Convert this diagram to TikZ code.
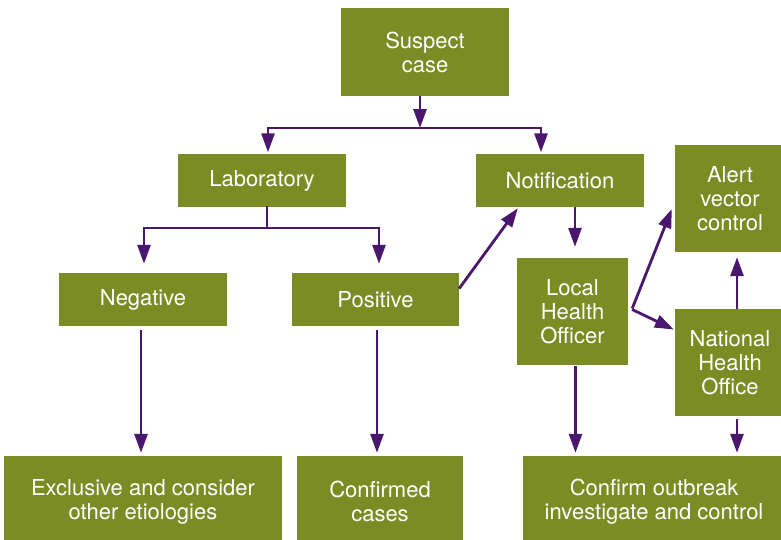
\documentclass[tikz,border=0pt]{standalone}
\usepackage{fontspec}
\setmainfont{TeX Gyre Heros}
\usetikzlibrary{arrows.meta}
\definecolor{boxgreen}{RGB}{122,140,35}
\definecolor{purp}{RGB}{75,23,110}
\begin{document}
\begin{tikzpicture}[x=1pt,y=-1pt,
  box/.style={fill=boxgreen, text=white, inner sep=0pt, align=center,
    font=\fontsize{22}{24}\selectfont},
  ln/.style={draw=purp, line width=2.8pt, line cap=rect},
  arr/.style={draw=purp, line width=2.8pt, -{Triangle[length=19pt,width=13pt]}}]
\useasboundingbox (0,0) rectangle (781,539);
% boxes
\node[box, minimum width=168pt, minimum height=88pt] (suspect) at (425,52) {Suspect\\case};
\node[box, minimum width=168pt, minimum height=53pt] (lab) at (262,180.5) {Laboratory};
\node[box, minimum width=168pt, minimum height=53pt] (notif) at (560,180.5) {Notification};
\node[box, minimum width=110pt, minimum height=107pt] (alert) at (730,198.5) {Alert\\vector\\control};
\node[box, minimum width=168pt, minimum height=53pt] (neg) at (143,299.5) {Negative};
\node[box, minimum width=167pt, minimum height=53pt] (pos) at (375.5,299.5) {Positive};
\node[box, minimum width=111pt, minimum height=107pt] (local) at (572.5,311.5) {Local\\Health\\Officer};
\node[box, minimum width=110pt, minimum height=107pt] (natl) at (730,362.5) {National\\Health\\Office};
\node[box, minimum width=278pt, minimum height=91pt] (excl) at (143,501.5) {Exclusive and consider\\other etiologies};
\node[box, minimum width=166pt, minimum height=91pt] (conf) at (380,501.5) {Confirmed\\cases};
\node[box, minimum width=262pt, minimum height=91pt] (outb) at (654,501.5) {Confirm outbreak\\investigate and control};
% suspect split
\coordinate (j1) at (420,128);
\coordinate (jl) at (268,128);
\coordinate (jr) at (541,128);
\draw[ln] (jl) -- (jr);
\draw[arr] ([xshift=-5pt]suspect.south) -- (j1);
\draw[arr, shorten >=1.5pt] (jl) -- (jl |- lab.north);
\draw[arr, shorten >=1.5pt] (jr) -- (jr |- notif.north);
% lab split
\coordinate (k1) at (144,228);
\coordinate (k2) at (379,228);
\draw[ln] ([xshift=5pt]lab.south) -- ([xshift=5pt]lab.south |- k1);
\draw[ln] (k1) -- (k2);
\draw[arr, shorten >=9pt] (k1) -- (k1 |- neg.north);
\draw[arr, shorten >=9pt] (k2) -- (k2 |- pos.north);
% down arrows
\draw[arr, shorten <=4pt, shorten >=3pt] ([xshift=-2pt]neg.south) -- ([xshift=-2pt]neg.south |- excl.north);
\draw[arr, shorten <=4pt, shorten >=3pt] ([xshift=1.5pt]pos.south) -- ([xshift=1.5pt]pos.south |- conf.north);
\draw[arr, shorten <=1pt, shorten >=3pt] ([xshift=3pt]local.south) -- ([xshift=3pt]local.south |- outb.north);
\draw[arr, shorten <=3pt, shorten >=3pt] ([xshift=7pt]natl.south) -- ([xshift=7pt]natl.south |- outb.north);
% diagonal and others
\draw[arr] ([yshift=11pt]pos.east) -- ([xshift=42pt,yshift=-1pt]notif.south west);
\draw[arr, shorten >=11pt] ([xshift=15pt]notif.south) -- ([xshift=15pt]notif.south |- local.north);
\draw[arr] ([xshift=4pt,yshift=3pt]local.east) -- ([xshift=-3pt,yshift=-10.5pt]alert.west);
\draw[arr] ([xshift=4pt,yshift=2pt]local.east) -- ([xshift=-1pt,yshift=33pt]natl.west);
\draw[arr, shorten >=5pt] ([xshift=7pt]natl.north) -- ([xshift=7pt]natl.north |- alert.south);
\end{tikzpicture}
\end{document}
